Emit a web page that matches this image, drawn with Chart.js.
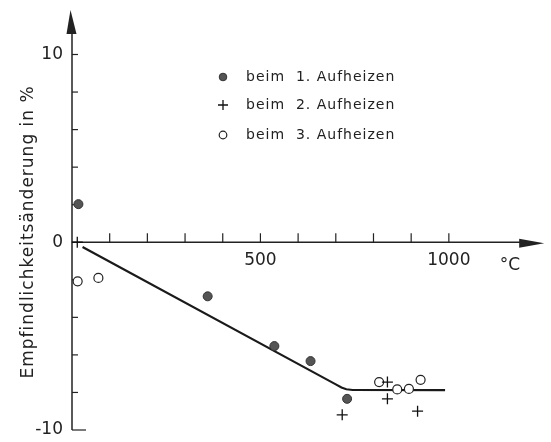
<!DOCTYPE html>
<html>
<head>
<meta charset="utf-8">
<script src="https://cdn.jsdelivr.net/npm/chart.js@4/dist/chart.umd.min.js"></script>
<style>
html,body{margin:0;padding:0;background:#fff;}
#wrap{width:551px;height:442px;position:relative;}
</style>
</head>
<body>
<div id="wrap"><canvas id="c" width="551" height="442"></canvas></div>
<script>
// Data
const temp1 = [17, 360, 537, 633, 730];
const val1  = [2.03, -2.88, -5.53, -6.33, -8.34];
const temp2 = [14, 717, 837, 837, 917];
const val2  = [0, -9.19, -7.45, -8.34, -9.0];
const temp3 = [15, 70, 815, 863, 894, 925];
const val3  = [-2.08, -1.9, -7.45, -7.84, -7.81, -7.33];
const lineT = [28, 700, 715, 728, 745, 990];
const lineV = [-0.25, -7.57, -7.74, -7.83, -7.87, -7.88];

const xMajorTicks = [500, 1000];
const xMinorTicks = [100, 200, 300, 400, 500, 600, 700, 800, 900, 1000];
const yMajorTicks = [10, 0, -10];
const yMinorTicks = [10, 8, 6, 4, 2, -2, -4, -6, -8, -10];
const legendLabels = ['beim  1. Aufheizen', 'beim  2. Aufheizen', 'beim  3. Aufheizen'];
const yTitle = 'Empfindlichkeitsänderung in %';
const xUnit = '°C';

const pts = (xs, ys) => xs.map((x, i) => ({x: x, y: ys[i]}));
const INK = '#222';

const axesPlugin = {
  id: 'axes',
  beforeDatasetsDraw(chart) {
    const ctx = chart.ctx;
    const xs = chart.scales.x, ys = chart.scales.y;
    const x0 = xs.getPixelForValue(0), y0 = ys.getPixelForValue(0);
    const yBot = ys.getPixelForValue(-10);
    const yTop = ys.getPixelForValue(ys.max);
    const xEnd = xs.getPixelForValue(xs.max);
    ctx.save();
    ctx.strokeStyle = INK; ctx.fillStyle = INK; ctx.lineWidth = 1.5;
    // y axis
    ctx.beginPath(); ctx.moveTo(x0, yBot); ctx.lineTo(x0, yTop + 20); ctx.stroke();
    ctx.beginPath(); ctx.moveTo(x0 - 1.5, yTop); ctx.lineTo(x0 - 5.5, yTop + 24); ctx.lineTo(x0 + 4.5, yTop + 24); ctx.closePath(); ctx.fill();
    // x axis
    ctx.beginPath(); ctx.moveTo(x0, y0); ctx.lineTo(xEnd - 20, y0); ctx.stroke();
    ctx.beginPath(); ctx.moveTo(xEnd, y0 + 1); ctx.lineTo(xEnd - 25, y0 - 3.5); ctx.lineTo(xEnd - 25, y0 + 5.5); ctx.closePath(); ctx.fill();
    // y ticks
    ctx.lineWidth = 1.2;
    yMinorTicks.forEach(v => {
      const p = ys.getPixelForValue(v);
      const len = v === -10 ? 14 : 6;
      ctx.beginPath(); ctx.moveTo(x0, p); ctx.lineTo(x0 + len, p); ctx.stroke();
    });
    // x ticks (upwards)
    xMinorTicks.forEach(v => {
      const p = xs.getPixelForValue(v);
      ctx.beginPath(); ctx.moveTo(p, y0); ctx.lineTo(p, y0 - 9); ctx.stroke();
    });
    // labels
    ctx.font = '17px "DejaVu Sans"';
    ctx.textAlign = 'right'; ctx.textBaseline = 'middle';
    yMajorTicks.forEach(v => {
      ctx.fillText(String(v), x0 - 9, ys.getPixelForValue(v));
    });
    ctx.textAlign = 'center';
    xMajorTicks.forEach(v => {
      ctx.fillText(String(v), xs.getPixelForValue(v), y0 + 18);
    });
    ctx.fillText(xUnit, xs.getPixelForValue(1162), y0 + 23);
    // y title
    ctx.save();
    ctx.translate(29, ys.getPixelForValue(0.55));
    ctx.rotate(-Math.PI / 2);
    ctx.font = '17px "DejaVu Sans"';
    ctx.letterSpacing = '1px';
    ctx.textAlign = 'center'; ctx.textBaseline = 'middle';
    ctx.fillText(yTitle, 0, 0);
    ctx.restore();
    // legend
    ctx.font = '14px "DejaVu Sans"';
    ctx.letterSpacing = '1px';
    ctx.textAlign = 'left'; ctx.textBaseline = 'middle';
    const rows = [77, 105, 135];
    const mx = 223, tx = 246;
    legendLabels.forEach((lab, i) => {
      ctx.fillText(lab, tx, rows[i]);
    });
    ctx.letterSpacing = '0px';
    // legend markers
    ctx.beginPath(); ctx.arc(mx, rows[0], 3.8, 0, Math.PI * 2);
    ctx.fillStyle = '#555'; ctx.fill(); ctx.strokeStyle = '#333'; ctx.lineWidth = 1; ctx.stroke();
    ctx.strokeStyle = '#111'; ctx.lineWidth = 1.3;
    ctx.beginPath(); ctx.moveTo(mx - 5, rows[1]); ctx.lineTo(mx + 5, rows[1]);
    ctx.moveTo(mx, rows[1] - 5); ctx.lineTo(mx, rows[1] + 5); ctx.stroke();
    ctx.beginPath(); ctx.arc(mx, rows[2], 3.8, 0, Math.PI * 2);
    ctx.fillStyle = '#fff'; ctx.fill(); ctx.strokeStyle = '#222'; ctx.lineWidth = 1.2; ctx.stroke();
    ctx.restore();
  }
};

new Chart(document.getElementById('c'), {
  type: 'scatter',
  data: {
    datasets: [
      {label: 'Fit', type: 'line', data: pts(lineT, lineV), borderColor: '#1a1a1a', borderWidth: 2.2,
       pointRadius: 0, tension: 0, fill: false, clip: false, order: 4},
      {label: legendLabels[0], data: pts(temp1, val1), pointStyle: 'circle', pointRadius: 4.5,
       backgroundColor: '#555', borderColor: '#333', borderWidth: 1, clip: false, order: 1},
      {label: legendLabels[1], data: pts(temp2, val2), pointStyle: 'cross', pointRadius: 5.5,
       borderColor: '#111', borderWidth: 1.3, clip: false, order: 2},
      {label: legendLabels[2], data: pts(temp3, val3), pointStyle: 'circle', pointRadius: 4.5,
       backgroundColor: '#fff', borderColor: '#222', borderWidth: 1.2, clip: false, order: 3}
    ]
  },
  options: {
    responsive: false,
    devicePixelRatio: 1,
    animation: false,
    layout: {padding: {left: 72, right: 3, top: 10, bottom: 12}},
    plugins: {legend: {display: false}, tooltip: {enabled: false}},
    scales: {
      x: {type: 'linear', min: 0, max: 1253, display: false},
      y: {type: 'linear', min: -10, max: 12.37, display: false}
    }
  },
  plugins: [axesPlugin]
});
</script>
</body>
</html>
